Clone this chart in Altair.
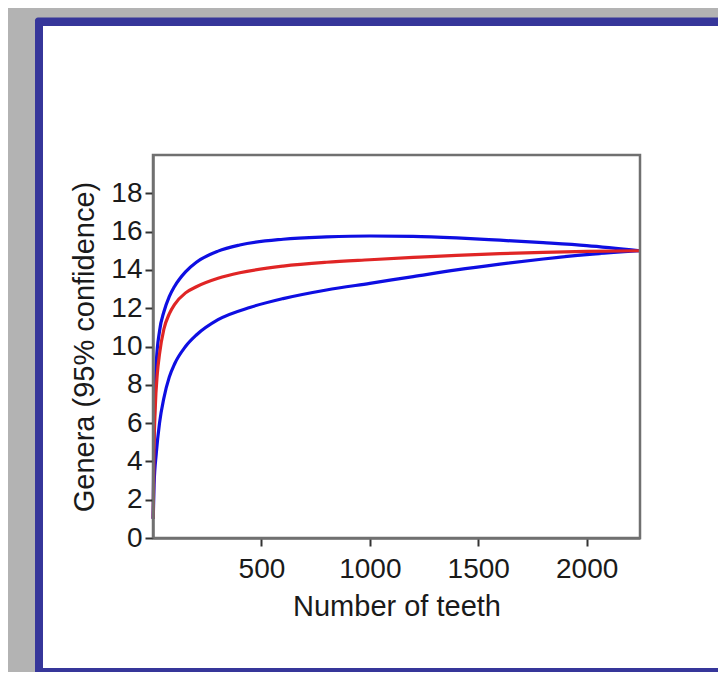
import altair as alt
import pandas as pd

# ---- data ----
upper_x = [1, 3, 8, 15, 30, 50, 75, 100, 150, 200, 300, 400, 600, 800, 1000, 1200, 1400, 1600, 1800, 2000, 2246]
upper_y = [1.0, 4.0, 7.0, 9.1, 10.8, 11.8, 12.6, 13.15, 13.9, 14.4, 14.98, 15.3, 15.6, 15.72, 15.77, 15.75, 15.67, 15.55, 15.42, 15.27, 15.0]

mean_x = [1, 4, 10, 20, 30, 50, 75, 100, 150, 200, 300, 400, 600, 800, 1000, 1200, 1400, 1600, 1800, 2000, 2246]
mean_y = [1.0, 4.2, 6.7, 8.6, 9.6, 10.9, 11.7, 12.2, 12.8, 13.12, 13.56, 13.85, 14.2, 14.4, 14.53, 14.65, 14.76, 14.85, 14.92, 14.97, 15.0]

lower_x = [1, 5, 15, 30, 50, 75, 100, 150, 200, 300, 450, 600, 800, 1000, 1200, 1400, 1600, 1800, 2000, 2246]
lower_y = [1.0, 2.8, 4.4, 6.0, 7.3, 8.4, 9.1, 10.0, 10.6, 11.4, 12.05, 12.5, 12.95, 13.3, 13.65, 14.0, 14.3, 14.57, 14.8, 15.0]

x_ticks = [500, 1000, 1500, 2000]
y_ticks = [0, 2, 4, 6, 8, 10, 12, 14, 16, 18]
x_max = 2246
y_max = 20

series_colors = {"upper": "#0e0ee2", "mean": "#e02525", "lower": "#0e0ee2"}

rows = []
for name, xs, ys in [("upper", upper_x, upper_y), ("lower", lower_x, lower_y), ("mean", mean_x, mean_y)]:
    for i, (xv, yv) in enumerate(zip(xs, ys)):
        rows.append({"series": name, "teeth": xv, "genera": yv, "order": i})
df = pd.DataFrame(rows)

W, H = 487, 383
FONT = "Liberation Sans"

one = pd.DataFrame({"k": [0]})

blue_frame = alt.Chart(one).mark_rect(color="#36369a", cornerRadius=3).encode(
    x=alt.value(-118), x2=alt.value(700), y=alt.value(-137.5), y2=alt.value(600)
)
white_panel = alt.Chart(one).mark_rect(color="white").encode(
    x=alt.value(-110), x2=alt.value(700), y=alt.value(-129), y2=alt.value(513)
)

xscale = alt.Scale(domain=[0, x_max], nice=False, zero=False)
yscale = alt.Scale(domain=[0, y_max], nice=False)

lines = alt.Chart(df).mark_line(strokeWidth=3.2, interpolate="monotone").encode(
    x=alt.X("teeth:Q", scale=xscale,
            axis=alt.Axis(values=x_ticks, format="d", title="Number of teeth", labelPadding=9,
                          titlePadding=9, zindex=1)),
    y=alt.Y("genera:Q", scale=yscale,
            axis=alt.Axis(values=y_ticks, format="d", title="Genera (95% confidence)", labelPadding=3,
                          titlePadding=11, zindex=1)),
    detail="series:N",
    order="order:Q",
    color=alt.Color("series:N",
                    scale=alt.Scale(domain=list(series_colors.keys()), range=list(series_colors.values())),
                    legend=None),
)

box = alt.Chart(one).mark_rect(filled=False, stroke="#707070", strokeWidth=2.5).encode(
    x=alt.value(0), x2=alt.value(W), y=alt.value(0), y2=alt.value(H)
)

chart = alt.layer(blue_frame, white_panel, lines, box).properties(
    width=W, height=H,
    background="#b3b3b3",
    padding={"left": 145, "top": 147, "right": 78, "bottom": 134},
    autosize=alt.AutoSizeParams(type="none"),
).configure_view(stroke=None).configure_axis(
    grid=False,
    domainColor="#707070",
    domainWidth=2.5,
    tickColor="#333333",
    tickWidth=2,
    tickSize=8,
    labelFont=FONT,
    labelFontSize=28,
    labelColor="#1a1a1a",
    titleFont=FONT,
    titleFontSize=29,
    titleFontWeight="normal",
    titleColor="#1a1a1a",
)

chart.save("out.html", embed_options={"renderer": "svg", "actions": False})
